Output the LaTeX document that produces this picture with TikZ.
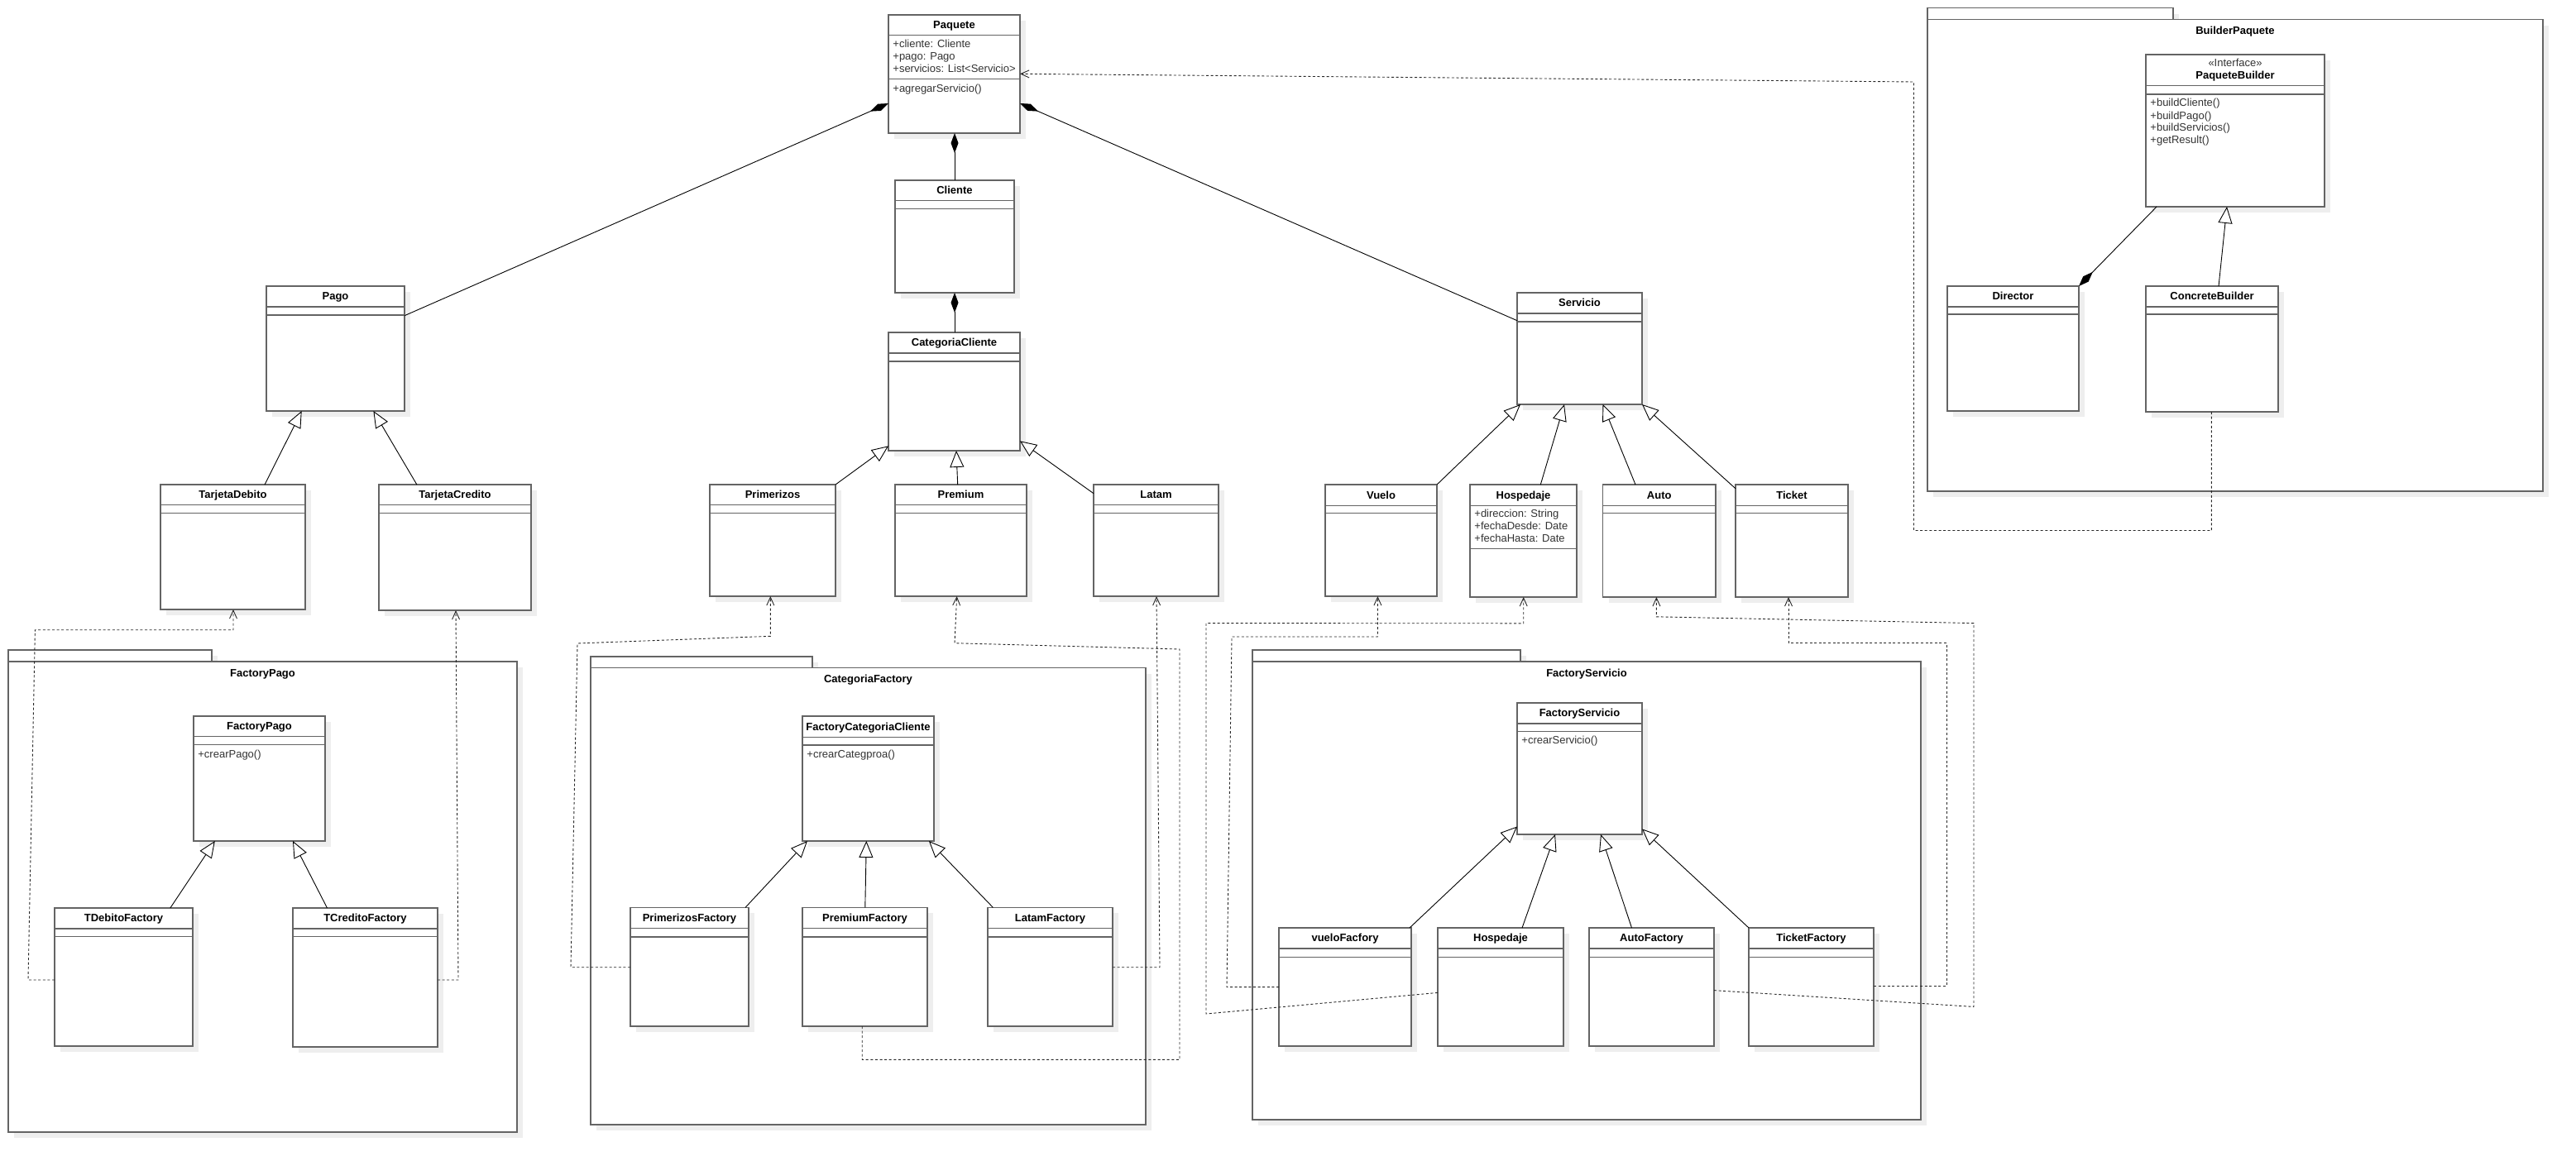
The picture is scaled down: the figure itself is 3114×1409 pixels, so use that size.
\documentclass[tikz,border=0pt]{standalone}
\usepackage{fontspec}
\setmainfont{Liberation Sans}
\usetikzlibrary{arrows.meta,calc}
\definecolor{boxc}{RGB}{100,100,100}
\definecolor{shadowc}{RGB}{238,238,238}
\definecolor{txtc}{RGB}{51,51,51}
\definecolor{depc}{RGB}{40,40,40}
\newcommand{\fs}{\fontsize{6.5pt}{7.5pt}\selectfont}
\tikzset{
  boxline/.style={draw=boxc, line width=0.65pt},
  clsbox/.style={draw=boxc, line width=0.65pt, fill=white, inner sep=0pt, outer sep=0pt, anchor=north west},
  ttl/.style={font=\fs\bfseries, text=black, inner sep=0pt, anchor=base},
  stereo/.style={font=\fs, text=txtc, inner sep=0pt, anchor=base},
  attr/.style={font=\fs, text=txtc, inner sep=0pt, anchor=base west},
  comp/.style={draw=black, line width=0.45pt, -{Diamond[length=12pt,width=4.5pt,fill=black]}},
  inh/.style={draw=black, line width=0.45pt, -{Triangle[length=10pt,width=8.5pt,fill=white]}},
  dep/.style={draw=depc, line width=0.45pt, dash pattern=on 1.5pt off 1.3pt, -{Straight Barb[length=5pt,width=4.5pt]}},
}
% name, x1, y1, x2, y2, sep1, sep2, title
\newcommand{\umlcls}[8]{%
  \fill[shadowc] (#2+7,#3+7) rectangle (#4+7,#5+7);
  \node[clsbox, minimum width={(#4-#2)*0.5pt}, minimum height={(#5-#3)*0.5pt}] (#1) at (#2,#3) {};
  \draw[boxline] (#2,#6) -- (#4,#6);
  \draw[boxline] (#2,#7) -- (#4,#7);
  \node[ttl] (#1-t) at ({(#2+#4)/2},{(#3+#6)/2+4.3}) {#8};
}
% name, x1, tabtop, tabright, bodytop, x2, y2, title
\newcommand{\umlpkg}[8]{%
  \fill[shadowc] (#2+7,#3+7) rectangle (#4+7,#5+7);
  \fill[shadowc] (#2+7,#5+7) rectangle (#6+7,#7+7);
  \draw[boxline, fill=white] (#2,#3) rectangle (#4,#5);
  \node[clsbox, minimum width={(#6-#2)*0.5pt}, minimum height={(#7-#5)*0.5pt}] (#1) at (#2,#5) {};
  \node[ttl] (#1-t) at ({(#2+#6)/2},{#5+13.8+4.3}) {#8};
}
% name, x, y(center), text
\newcommand{\umltxt}[4]{\node[attr] (#1) at (#2,#3+4.3) {#4};}
\begin{document}
\begin{tikzpicture}[x=0.5pt,y=-0.5pt]
\useasboundingbox[fill=white] (0,0) rectangle (3114,1409);

% ---------- packages ----------
\umlpkg{bpkg}{2330}{9.6}{2627}{23.8}{3074}{594}{BuilderPaquete}
\umlpkg{fppkg}{10}{786}{256}{800}{625}{1369}{FactoryPago}
\umlpkg{cfpkg}{714}{794}{982}{807.7}{1385}{1360}{CategoriaFactory}
\umlpkg{fspkg}{1514}{786}{1838}{800}{2322}{1354}{FactoryServicio}

% ---------- classes ----------
\umlcls{paquete}{1074}{18}{1233}{161}{42.7}{95.7}{Paquete}
\umltxt{paq-a1}{1079}{53.3}{+cliente: Cliente}
\umltxt{paq-a2}{1079}{68.3}{+pago: Pago}
\umltxt{paq-a3}{1079}{83.3}{+servicios: List<Servicio>}
\umltxt{paq-m1}{1079}{106.7}{+agregarServicio()}

\umlcls{cliente}{1082}{218}{1226}{354}{242.7}{252.7}{Cliente}
\umlcls{categoria}{1074}{402}{1233}{545}{427}{437}{CategoriaCliente}
\umlcls{pago}{322}{346}{489}{497}{371}{381}{Pago}
\umlcls{tdebito}{194}{586}{369}{737}{610.7}{620.7}{TarjetaDebito}
\umlcls{tcredito}{458}{586}{642}{738}{610.7}{620.7}{TarjetaCredito}
\umlcls{primerizos}{858}{586}{1010}{721}{610.7}{620.7}{Primerizos}
\umlcls{premium}{1082}{586}{1241}{721}{610.7}{620.7}{Premium}
\umlcls{latam}{1322}{586}{1473}{721}{610.7}{620.7}{Latam}
\umlcls{servicio}{1834}{354}{1985}{489}{379}{389}{Servicio}
\umlcls{vuelo}{1602}{586}{1737}{721}{611.5}{620.6}{Vuelo}
\umlcls{hospedaje}{1777}{586}{1906}{722}{611.5}{663.7}{Hospedaje}
\umltxt{hos-a1}{1782}{621.2}{+direccion: String}
\umltxt{hos-a2}{1782}{636.1}{+fechaDesde: Date}
\umltxt{hos-a3}{1782}{651}{+fechaHasta: Date}
\umlcls{auto}{1937.5}{586}{2074}{722}{611.5}{620.6}{Auto}
\umlcls{ticket}{2098}{586}{2234}{722}{611.5}{620.6}{Ticket}

\umlcls{pbuilder}{2594}{66}{2810}{250}{103.8}{114}{}
\node[stereo] (pb-st) at (2702,76.5+4.3) {«Interface»};
\node[ttl] (pb-name) at (2702,91.6+4.3) {PaqueteBuilder};
\umltxt{pb-m1}{2599}{124.6}{+buildCliente()}
\umltxt{pb-m2}{2599}{139.7}{+buildPago()}
\umltxt{pb-m3}{2599}{154.4}{+buildServicios()}
\umltxt{pb-m4}{2599}{169.6}{+getResult()}
\umlcls{director}{2354}{346}{2513}{497}{371}{380}{Director}
\umlcls{cbuilder}{2594}{346}{2754}{498}{371}{380}{ConcreteBuilder}

\umlcls{factorypago}{234}{866}{393}{1017}{890.3}{900.5}{FactoryPago}
\umltxt{fp-m1}{239}{911.7}{+crearPago()}
\umlcls{tdebitof}{66}{1098}{233}{1265}{1122.9}{1132.7}{TDebitoFactory}
\umlcls{tcreditof}{354}{1098}{529}{1266}{1122.9}{1132.7}{TCreditoFactory}

\umlcls{factcat}{970}{866}{1129}{1017}{891.4}{900.9}{FactoryCategoriaCliente}
\umltxt{fc-m1}{975}{912}{+crearCategproa()}
\umlcls{primf}{762}{1097.4}{905}{1241}{1122.3}{1133}{PrimerizosFactory}
\umlcls{premf}{970}{1097.4}{1121}{1241}{1122.3}{1133}{PremiumFactory}
\umlcls{latamf}{1194}{1097.4}{1345}{1241}{1122.3}{1133}{LatamFactory}

\umlcls{factserv}{1834}{850}{1985}{1009}{875}{884.7}{FactoryServicio}
\umltxt{fs-m1}{1839}{895.6}{+crearServicio()}
\umlcls{vuelof}{1546}{1122}{1706}{1265}{1147}{1157.4}{vueloFacfory}
\umlcls{hospf}{1738}{1122}{1890}{1265}{1147}{1157.4}{Hospedaje}
\umlcls{autof}{1921}{1122}{2072}{1265}{1147}{1157.4}{AutoFactory}
\umlcls{ticketf}{2114}{1122}{2265}{1265}{1147}{1157.4}{TicketFactory}

% ---------- compositions ----------
\draw[comp] (pago.east |- 0,381.7) -- (paquete.west |- 0,125);
\draw[comp] (1154,0 |- cliente.north) -- (1154,0 |- paquete.south);
\draw[comp] (servicio.west |- 0,387.7) -- (paquete.east |- 0,125);
\draw[comp] (1154,0 |- categoria.north) -- (1154,0 |- cliente.south);
\draw[comp] (2607,0 |- pbuilder.south) -- (director.north east);

% ---------- generalizations ----------
\draw[inh] (320,0 |- tdebito.north) -- (364.7,0 |- pago.south);
\draw[inh] (503.9,0 |- tcredito.north) -- (451.4,0 |- pago.south);
\draw[inh] (primerizos.north east) -- (categoria.west |- 0,539.3);
\draw[inh] (1157.7,0 |- premium.north) -- (1156,0 |- categoria.south);
\draw[inh] (latam.west |- 0,596.7) -- (categoria.east |- 0,533.3);
\draw[inh] (vuelo.north east) -- (1838,0 |- servicio.south);
\draw[inh] (1862.3,0 |- hospedaje.north) -- (1891,0 |- servicio.south);
\draw[inh] (1977,0 |- auto.north) -- (1937.5,0 |- servicio.south);
\draw[inh] (ticket.west |- 0,590.8) -- (servicio.south east);
\draw[inh] (2682,0 |- cbuilder.north) -- (2692,0 |- pbuilder.south);
\draw[inh] (205.8,0 |- tdebitof.north) -- (259.8,0 |- factorypago.south);
\draw[inh] (395.5,0 |- tcreditof.north) -- (354,0 |- factorypago.south);
\draw[inh] (901,0 |- primf.north) -- (976,0 |- factcat.south);
\draw[inh] (1045.8,0 |- premf.north) -- (1047.3,0 |- factcat.south);
\draw[inh] (1200.4,0 |- latamf.north) -- (1122.9,0 |- factcat.south);
\draw[inh] (1704,0 |- vuelof.north) -- (factserv.west |- 0,999.5);
\draw[inh] (1840,0 |- hospf.north) -- (1880,0 |- factserv.south);
\draw[inh] (1972.5,0 |- autof.north) -- (1935,0 |- factserv.south);
\draw[inh] (ticketf.north west) -- (factserv.east |- 0,1002.4);

% ---------- dependencies ----------
\draw[dep] (2673.4,0 |- cbuilder.south) -- (2673.4,641.5) -- (2313.5,641.5) -- (2313.5,99) -- (paquete.east |- 0,89.3);
\draw[dep] (tdebitof.west |- 0,1185) -- (34,1185) -- (42.4,761.7) -- (282,761.7) -- (282,0 |- tdebito.south);
\draw[dep] (tcreditof.east |- 0,1185) -- (554,1185) -- (551,0 |- tcredito.south);
\draw[dep] (primf.west |- 0,1169.7) -- (690,1169.7) -- (698,778) -- (931.3,769.3) -- (931.3,0 |- primerizos.south);
\draw[dep] (1042.2,0 |- premf.south) -- (1042.2,1281.3) -- (1426,1281.3) -- (1426,785) -- (1154,777.7) -- (1156.7,0 |- premium.south);
\draw[dep] (latamf.east |- 0,1169.7) -- (1402,1169.7) -- (1398,0 |- latam.south);
\draw[dep] (vuelof.west |- 0,1193.6) -- (1483,1193.6) -- (1489,770) -- (1665.4,770) -- (1665.4,0 |- vuelo.south);
\draw[dep] (hospf.west |- 0,1200.4) -- (1458,1226) -- (1458,753.6) -- (1841.7,753.8) -- (1841.7,0 |- hospedaje.south);
\draw[dep] (autof.east |- 0,1197.6) -- (2386,1217.4) -- (2386,753.6) -- (2002.4,745.8) -- (2002.4,0 |- auto.south);
\draw[dep] (ticketf.east |- 0,1192.4) -- (2353.5,1192.4) -- (2353.5,777.5) -- (2162,777.5) -- (2162,0 |- ticket.south);
\end{tikzpicture}
\end{document}
